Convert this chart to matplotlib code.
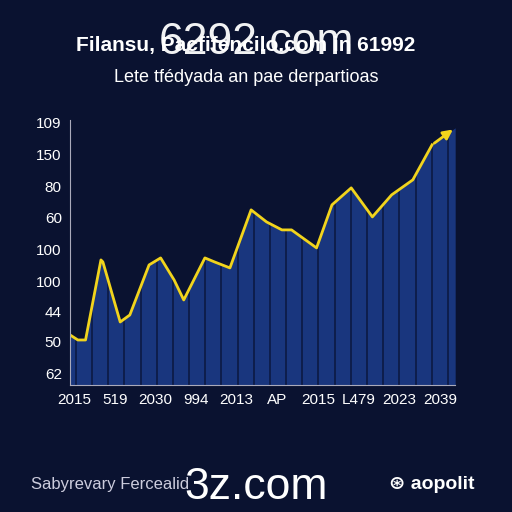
import numpy as np
import matplotlib.pyplot as plt

plt.rcParams['font.family'] = ['Liberation Sans', 'DejaVu Sans']

# garbled chart text
title = "Filansu, Pacfifencilo.com in 61992"
subtitle = "Lete tfédyada an pae derpartioas"
y_labels = ["62", "50", "44", "100", "100", "60", "80", "150", "109"]
x_labels = ["2015", "519", "2030", "994", "2013", "AP", "2015", "L479", "2023", "2039"]

# line trace (x position 0..10, value on 0..265 scale)
xs = [0.0, 0.2, 0.4, 0.8, 0.85, 1.3, 1.55, 2.05, 2.35, 2.7, 2.95, 3.5, 3.75, 4.15, 4.7, 5.1, 5.5, 5.75, 6.4, 6.8, 7.3, 7.85, 8.35, 8.9, 9.4, 10.0]
ys = [50, 45, 45, 125, 123, 63, 70, 120, 127, 105, 85, 127, 123, 117, 175, 163, 155, 155, 137, 180, 197, 168, 190, 205, 240, 257]

bg = "#0a1230"
fig = plt.figure(figsize=(5.12, 5.12), dpi=100, facecolor=bg)
ax = fig.add_axes([0.137, 0.248, 0.752, 0.518], facecolor=bg)

xs = np.array(xs)
ys = np.array(ys)
ax.fill_between(xs, 0, ys, color="#1c3d8c", alpha=0.85, lw=0)
for xv in np.arange(0.15, 10, 0.42):
    ax.plot([xv, xv], [0, np.interp(xv, xs, ys)], color="#0c1a44", lw=1.2)
ax.plot(xs[:-1], ys[:-1], color="#f2d41c", lw=2)
ax.annotate("", xy=(xs[-1], ys[-1]), xytext=(xs[-2], ys[-2]),
            arrowprops=dict(arrowstyle="-|>", color="#f2d41c", lw=2, mutation_scale=14))

ax.set_xlim(0, 10)
ax.set_ylim(0, 265)
ax.set_yticks([12, 43, 73, 103, 135, 167, 198, 230, 262])
ax.set_yticklabels(y_labels)
ax.set_xticks(np.linspace(0.1, 9.6, len(x_labels)))
ax.set_xticklabels(x_labels)
ax.tick_params(colors="white", labelsize=11, length=0, pad=6)
for s in ["top", "right"]:
    ax.spines[s].set_visible(False)
ax.spines["left"].set_color("#aab")
ax.spines["bottom"].set_color("#aab")

fig.text(0.48, 0.9, title, color="white", fontsize=15, fontweight="bold", ha="center")
fig.text(0.48, 0.84, subtitle, color="white", fontsize=13, ha="center")
fig.text(0.5, 0.895, "6292.com", color="white", fontsize=32, ha="center", alpha=0.95)
fig.text(0.06, 0.045, "Sabyrevary Fercealid", color="#ccd", fontsize=12)
fig.text(0.5, 0.025, "3z.com", color="white", fontsize=32, ha="center")
fig.text(0.76, 0.045, "⊛ aopolit", color="white", fontsize=14, fontweight="bold")

fig.savefig("out.png", dpi=100, facecolor=bg)
